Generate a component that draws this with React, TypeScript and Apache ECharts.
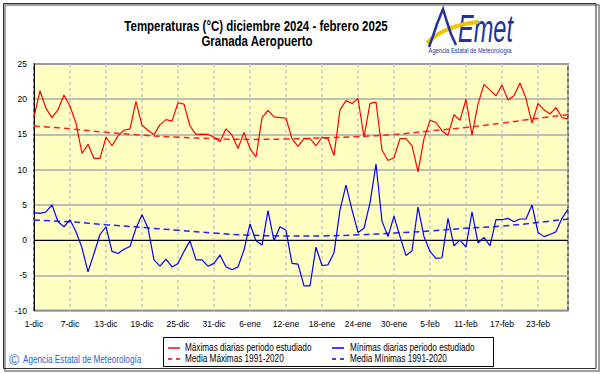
import React, { useEffect, useRef } from "react";
import * as echarts from "echarts";

const tickLabels = ["1-dic", "7-dic", "13-dic", "19-dic", "25-dic", "31-dic", "6-ene", "12-ene", "18-ene", "24-ene", "30-ene", "5-feb", "11-feb", "17-feb", "23-feb"];

const maxT = [
  17.5, 21.2, 18.7, 17.4, 18.5, 20.6, 19.0, 16.6, 12.3, 13.6,
  11.6, 11.6, 14.6, 13.4, 14.8, 15.6, 15.8, 19.7, 16.3, 15.6,
  15.0, 16.4, 17.1, 16.9, 19.5, 19.3, 16.2, 15.0, 15.05, 15.0,
  14.6, 14.0, 15.8, 14.9, 13.0, 15.3, 13.0, 11.8, 17.4, 18.4,
  17.5, 17.4, 17.3, 14.4, 13.3, 14.4, 14.4, 13.4, 14.6, 14.4,
  12.0, 18.5, 19.8, 19.4, 20.1, 14.6, 19.4, 19.6, 12.8, 11.3,
  11.7, 14.4, 14.4, 13.4, 9.7, 14.4, 17.0, 16.7, 15.5, 14.9,
  17.8, 17.0, 20.0, 14.9, 19.3, 22.1, 21.3, 20.5, 22.0, 19.9,
  20.5, 22.3, 20.1, 16.6, 19.4, 18.5, 17.9, 18.8, 17.4, 17.2,
];

const minT = [
  3.9, 3.8, 4.0, 5.0, 2.6, 1.9, 2.9, 1.2, -1.1, -4.5,
  -1.9, 0.8, 1.9, -1.6, -1.9, -1.3, -0.9, 1.7, 3.6, 1.7,
  -2.8, -3.7, -2.7, -3.8, -3.3, -1.6, -0.1, -2.8, -2.8, -3.7,
  -3.3, -2.1, -3.8, -4.2, -3.8, -1.4, 2.3, -0.1, -0.7, 4.2,
  -0.1, 1.9, 1.4, -3.3, -3.4, -6.5, -6.5, -1.0, -3.6, -3.5,
  -1.8, 4.3, 7.8, 4.3, 1.1, 1.7, 5.3, 10.8, 2.7, 0.5,
  3.4, 0.5, -2.2, -1.5, 4.7, 0.5, -1.6, -2.6, -2.5, 3.1,
  -0.8, 0.0, -1.0, 4.0, -0.4, 0.4, -0.8, 2.9, 2.9, 3.1,
  2.6, 3.0, 3.0, 5.0, 1.1, 0.5, 0.8, 1.2, 3.1, 4.4,
];

const meanDays = [0, 6, 12, 18, 24, 30, 36, 42, 48, 54, 60, 66, 72, 78, 84, 89];
const meanMax = [16.2, 15.8, 15.3, 14.9, 14.6, 14.4, 14.3, 14.35, 14.5, 14.7, 15.0, 15.5, 16.0, 16.6, 17.3, 17.8];
const meanMin = [2.85, 2.6, 2.2, 1.8, 1.4, 1.0, 0.7, 0.6, 0.6, 0.75, 1.0, 1.3, 1.7, 2.0, 2.5, 3.0];

const seriesNames = [
  "Máximas diarias periodo estudiado",
  "Mínimas diarias periodo estudiado",
  "Media Máximas 1991-2020",
  "Media Mínimas 1991-2020",
];

const titleLines = ["Temperaturas (°C) diciembre 2024 - febrero 2025", "Granada Aeropuerto"];

const FONT = "'Liberation Sans', Arial, sans-serif";
const SQUEEZE = 0.82;
const RED = "#FF0000";
const BLUE = "#0000FF";
const LOGO_BLUE = "#22349A";

function narrowText(x: number, y: number, text: string, font: string, fill: string, align = "left", z = 20) {
  return {
    type: "group",
    x,
    y,
    scaleX: SQUEEZE,
    z,
    children: [
      {
        type: "text",
        x: 0,
        y: 0,
        z,
        style: { text, fill, font, verticalAlign: "middle", align },
      },
    ],
  };
}

export default function App() {
  const ref = useRef<HTMLDivElement>(null);

  useEffect(() => {
    if (!ref.current) return;
    const chart = echarts.init(ref.current, undefined, { renderer: "svg" });

    const legendLine = (x: number, y: number, color: string, dashed: boolean) => ({
      type: "line",
      shape: { x1: x, y1: y, x2: x + 12, y2: y },
      style: { stroke: color, lineWidth: 1.5, lineDash: dashed ? [4, 4] : null },
      z: 20,
    });

    chart.setOption({
      animation: false,
      backgroundColor: "#FFFFFF",
      grid: {
        left: 34,
        top: 64,
        right: 33,
        bottom: 63.4,
        show: true,
        backgroundColor: "#FFFFC2",
        borderColor: "#404040",
        borderWidth: 1.5,
      },
      xAxis: {
        type: "value",
        min: 0,
        max: 89,
        interval: 6,
        axisLine: { show: false },
        axisTick: { show: false },
        axisLabel: {
          showMaxLabel: false,
          margin: 9,
          fontFamily: FONT,
          fontSize: 8.5,
          color: "#000",
          formatter: (v: number) => tickLabels[Math.round(v / 6)] ?? "",
        },
        splitLine: { show: true, lineStyle: { color: "#C8C8C0", width: 1.5, type: [3, 3] } },
      },
      yAxis: {
        type: "value",
        min: -10,
        max: 25,
        interval: 5,
        axisLine: { show: true, lineStyle: { color: "#000", width: 1 } },
        axisTick: { show: false },
        axisLabel: { margin: 7, fontFamily: FONT, fontSize: 8.5, color: "#000" },
        splitLine: { show: true, lineStyle: { color: "#A8A8B4", width: 1.5 } },
      },
      series: [
        {
          name: seriesNames[0],
          type: "line",
          data: maxT.map((v, i) => [i, v]),
          symbol: "none",
          lineStyle: { color: RED, width: 1.2 },
          z: 5,
          markLine: {
            silent: true,
            symbol: "none",
            label: { show: false },
            lineStyle: { color: "#000", width: 1.2, type: "solid" },
            data: [{ yAxis: 0 }],
          },
        },
        {
          name: seriesNames[1],
          type: "line",
          data: minT.map((v, i) => [i, v]),
          symbol: "none",
          lineStyle: { color: BLUE, width: 1.2 },
          z: 5,
        },
        {
          name: seriesNames[2],
          type: "line",
          data: meanDays.map((d, i) => [d, meanMax[i]]),
          symbol: "none",
          smooth: 0.4,
          lineStyle: { color: "#FF2020", width: 1.5, type: [6, 4] },
          z: 4,
        },
        {
          name: seriesNames[3],
          type: "line",
          data: meanDays.map((d, i) => [d, meanMin[i]]),
          symbol: "none",
          smooth: 0.4,
          lineStyle: { color: "#2020FF", width: 1.5, type: [6, 4] },
          z: 4,
        },
      ],
      graphic: [
        // outer frame
        {
          type: "rect",
          shape: { x: 5, y: 5, width: 594, height: 366 },
          style: { fill: "none", stroke: "#A0A0A0", lineWidth: 2 },
          z: 1,
        },
        {
          type: "rect",
          shape: { x: 3.5, y: 3.5, width: 592.5, height: 365 },
          style: { fill: "none", stroke: "#303030", lineWidth: 1 },
          z: 2,
        },
        // title
        narrowText(256, 26, titleLines[0], `bold 14px ${FONT}`, "#000", "center"),
        narrowText(257, 41, titleLines[1], `bold 14px ${FONT}`, "#000", "center"),
        // logo
        {
          type: "bezierCurve",
          shape: { x1: 427, y1: 43, cpx1: 440, cpy1: 30, cpx2: 458, cpy2: 24, x2: 478, y2: 22 },
          style: { stroke: "#F4C300", lineWidth: 4, fill: "none" },
          z: 10,
        },
        {
          type: "polyline",
          shape: { points: [[429, 47], [433, 36], [437, 24], [443, 9], [447, 22], [451, 34], [456, 45]] },
          style: { stroke: LOGO_BLUE, lineWidth: 2.5, fill: "none" },
          z: 11,
        },
        {
          type: "group",
          x: 458,
          y: 29,
          scaleX: 0.62,
          children: [
            {
              type: "text",
              x: 0,
              y: 0,
              style: { text: "Emet", fill: LOGO_BLUE, font: `italic 38px ${FONT}`, verticalAlign: "middle", align: "left" },
            },
          ],
          z: 11,
        },
        narrowText(470, 50, "Agencia Estatal de Meteorología", `7px ${FONT}`, LOGO_BLUE, "center", 11),
        // footer
        {
          type: "text",
          x: 9,
          y: 360,
          style: { text: "©", fill: "#2F5FD0", font: `14px ${FONT}`, verticalAlign: "middle", align: "left" },
          z: 11,
        },
        narrowText(23, 360, "Agencia Estatal de Meteorología", `10px ${FONT}`, "#2F5FD0", "left", 11),
        // legend box
        {
          type: "rect",
          shape: { x: 163.5, y: 337.5, width: 330, height: 29 },
          style: { fill: "#FFFFFF", stroke: "#000", lineWidth: 1 },
          z: 19,
        },
        legendLine(168, 348, RED, false),
        narrowText(185, 348, seriesNames[0], `10px ${FONT}`, "#000"),
        legendLine(332, 348, BLUE, false),
        narrowText(350, 348, seriesNames[1], `10px ${FONT}`, "#000"),
        legendLine(168, 359, RED, true),
        narrowText(185, 359, seriesNames[2], `10px ${FONT}`, "#000"),
        legendLine(332, 359, BLUE, true),
        narrowText(350, 359, seriesNames[3], `10px ${FONT}`, "#000"),
      ],
    });

    return () => chart.dispose();
  }, []);

  return (
    <div
      ref={ref}
      style={{ position: "fixed", left: 0, top: 0, width: 601, height: 374, background: "#fff" }}
    />
  );
}
